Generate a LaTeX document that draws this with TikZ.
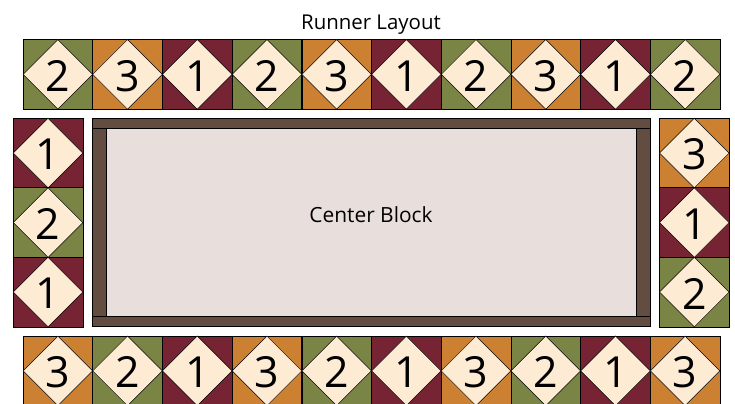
\documentclass[tikz,border=0pt]{standalone}
\usepackage{fontspec}
\setmainfont{Open Sans}

\definecolor{c1}{RGB}{118,35,51}
\definecolor{c2}{RGB}{122,132,68}
\definecolor{c3}{RGB}{204,128,50}
\definecolor{cream}{RGB}{253,235,212}
\definecolor{framebrown}{RGB}{99,76,64}
\definecolor{centerfill}{RGB}{232,223,220}

\tikzset{
  patch/.style={draw=black, line width=0.6pt, minimum size=69.6bp, inner sep=0pt, outer sep=0pt},
  diam/.style={draw=black, line width=0.5pt, fill=cream},
  numlbl/.style={font=\fontsize{43}{43}\selectfont, inner sep=0pt},
  strip/.style={draw=black, line width=0.6pt, fill=framebrown},
}
% one quilt block: name, centre x, centre y, number
\newcommand\qblock[4]{%
  \node[patch, fill=c#4] (#1) at (#2,#3) {};
  \filldraw[diam] (#1.north) -- (#1.east) -- (#1.south) -- (#1.west) -- cycle;
  \node[numlbl] (#1-n) at ([yshift=-1.5bp]#1.center) {#4};}

\begin{document}
\begin{tikzpicture}[x=1bp,y=-1bp]
\useasboundingbox (0,0) rectangle (735,403);
\node[font=\fontsize{20.5}{20.5}\selectfont, anchor=base, inner sep=0pt] (title) at (371,29.3) {Runner Layout};
% rows
\foreach \n [count=\i from 0] in {2,3,1,2,3,1,2,3,1,2}
  {\qblock{top\i}{57.85+69.7*\i}{74.35}{\n}}
\foreach \n [count=\i from 0] in {3,2,1,3,2,1,3,2,1,3}
  {\qblock{bot\i}{57.85+69.7*\i}{370.85}{\n}}
% columns
\foreach \n [count=\i from 0] in {1,2,1}
  {\qblock{left\i}{48.05}{153.05+69.5*\i}{\n}}
\foreach \n [count=\i from 0] in {3,1,2}
  {\qblock{right\i}{694.25}{153.05+69.5*\i}{\n}}
% centre block with frame
\filldraw[strip] (92.7,118.3) rectangle (650,128.5);
\filldraw[strip] (92.7,316.5) rectangle (650,326.7);
\filldraw[strip] (92.7,128.5) rectangle (106.7,316.5);
\filldraw[strip] (636,128.5) rectangle (650,316.5);
\node[draw=black, line width=0.6pt, fill=centerfill, minimum width=529.3bp, minimum height=188bp,
  inner sep=0pt] (centerblk) at (371.35,222.5) {};
\node[font=\fontsize{21}{21}\selectfont, anchor=base, inner sep=0pt] (centerlbl) at (371,222.7) {Center Block};
\end{tikzpicture}
\end{document}
